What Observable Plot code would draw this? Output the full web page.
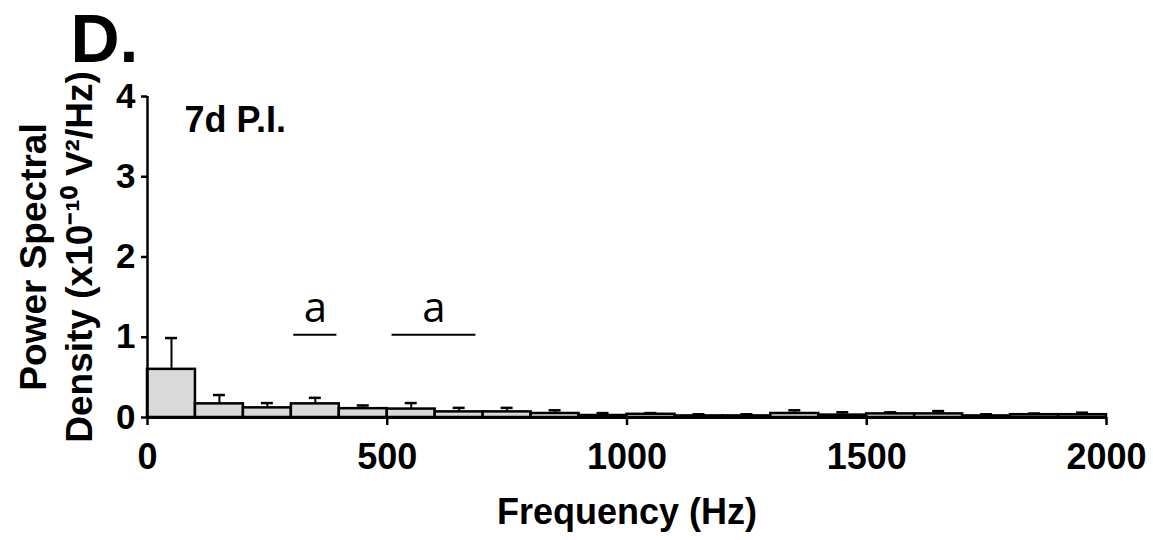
<!DOCTYPE html>
<html>
<head>
<meta charset="utf-8">
<script src="https://cdn.jsdelivr.net/npm/d3@7"></script>
<script src="https://cdn.jsdelivr.net/npm/@observablehq/plot@0.6"></script>
<style>
  html, body { margin: 0; padding: 0; background: white; overflow: hidden; }
</style>
</head>
<body>
<div id="chart"></div>
<script>
// Frequency bin edges (Hz)
const binEdges = [0, 100, 200, 300, 400, 500, 600, 700, 800, 900, 1000,
                  1100, 1200, 1300, 1400, 1500, 1600, 1700, 1800, 1900, 2000];
// Mean power spectral density (x10^-10 V^2/Hz) per bin
const meanPSD = [0.60, 0.17, 0.12, 0.17, 0.11, 0.105, 0.07, 0.07, 0.05, 0.025,
                 0.04, 0.02, 0.02, 0.05, 0.03, 0.045, 0.045, 0.02, 0.035, 0.035];
// Upper error (SEM) per bin
const semPSD = [0.39, 0.11, 0.06, 0.075, 0.04, 0.075, 0.05, 0.05, 0.04, 0.03,
                0.015, 0.02, 0.02, 0.04, 0.035, 0.02, 0.035, 0.02, 0.015, 0.025];
// Significance annotations
const sigLabels = ["a", "a"];
const sigX1 = [305, 510];
const sigX2 = [395, 685];
const sigLineY = [1.03, 1.03];
const sigLabelY = [1.36, 1.36];

const xTicks = [0, 500, 1000, 1500, 2000];
const yTicks = [0, 1, 2, 3, 4];
const panelLabel = "D.";
const groupLabel = "7d P.I.";
const xTitle = "Frequency (Hz)";
const yTitle = "Power Spectral\nDensity (x10\u207B\u00B9\u2070 V\u00B2/Hz)";

const bins = meanPSD.map((m, i) => ({
  lo: binEdges[i], hi: binEdges[i + 1], mean: m, sem: semPSD[i]
}));
const sig = sigLabels.map((t, i) => ({
  label: t, x1: sigX1[i], x2: sigX2[i], yl: sigLineY[i], yt: sigLabelY[i]
}));

const bold = "'Liberation Sans', Arial, sans-serif";

const chart = Plot.plot({
  width: 1153,
  height: 540,
  marginLeft: 147,
  marginRight: 47,
  marginTop: 96,
  marginBottom: 123,
  x: {domain: [0, 2000]},
  y: {domain: [0, 4]},
  style: {fontFamily: bold, fontWeight: "bold", color: "black", background: "white"},
  marks: [
    Plot.rectY(bins, {x1: "lo", x2: "hi", y: "mean", fill: "#d9d9d9", stroke: "black", strokeWidth: 2.5, inset: 0}),
    Plot.ruleX(bins, {x: d => (d.lo + d.hi) / 2, y1: "mean", y2: d => d.mean + d.sem, stroke: "black", strokeWidth: 2}),
    Plot.ruleY(bins, {x1: d => (d.lo + d.hi) / 2 - 12.5, x2: d => (d.lo + d.hi) / 2 + 12.5, y: d => d.mean + d.sem, stroke: "black", strokeWidth: 2.5}),
    Plot.ruleY([0], {stroke: "black", strokeWidth: 3}),
    Plot.ruleX([0], {stroke: "black", strokeWidth: 2.5}),
    Plot.axisY({ticks: yTicks, tickFormat: d => String(d), tickSize: 6, tickPadding: 6, fontSize: 35, fontWeight: "bold", fontFamily: bold, label: null, strokeWidth: 2.5}),
    Plot.axisX({ticks: xTicks, tickFormat: d => String(d), tickSize: 8, tickPadding: 18, fontSize: 36, fontWeight: "bold", fontFamily: bold, label: null, strokeWidth: 2.5}),
    Plot.ruleY(sig, {x1: "x1", x2: "x2", y: "yl", stroke: "black", strokeWidth: 2}),
    Plot.text(sig, {x: d => (d.x1 + d.x2) / 2, y: "yt", text: "label", fontFamily: "'Open Sans', sans-serif", fontWeight: "normal", fontSize: 42, lineAnchor: "middle"}),
    Plot.text([groupLabel], {frameAnchor: "top-left", textAnchor: "start", lineAnchor: "middle", dx: 37, dy: 24, fontSize: 36, fontWeight: "bold"}),
    Plot.text([panelLabel], {frameAnchor: "top-left", textAnchor: "start", lineAnchor: "middle", dx: -77, dy: -56, fontSize: 68, fontWeight: "bold"}),
    Plot.text([xTitle], {frameAnchor: "bottom", textAnchor: "middle", lineAnchor: "middle", dx: 0, dy: 94.5, fontSize: 36, fontWeight: "bold"}),
    Plot.text([yTitle], {frameAnchor: "left", textAnchor: "middle", lineAnchor: "middle", rotate: -90, dx: -93, dy: 0, lineHeight: 1.23, fontSize: 37, fontWeight: "bold"})
  ]
});
document.getElementById("chart").appendChild(chart);
</script>
</body>
</html>
